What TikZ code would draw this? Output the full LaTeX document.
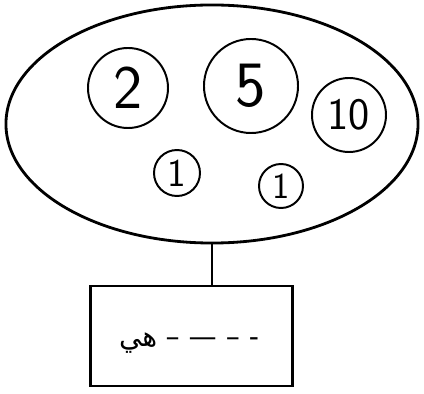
\documentclass[tikz,border=0pt]{standalone}
\usepackage{fontspec}
\newfontfamily\arabicfont[Script=Arabic]{DejaVu Sans}
\TeXXeTstate=1
\usetikzlibrary{shapes.geometric, positioning}

\begin{document}
\begin{tikzpicture}[x=0.025cm, y=-0.025cm,
  bag/.style={ellipse, draw, line width=2pt, inner sep=0pt,
              minimum width=10.3cm, minimum height=5.95cm},
  coin/.style={circle, draw, line width=1.4pt, inner sep=0pt, font=\sffamily},
  slip/.style={rectangle, draw, line width=2pt, inner sep=0pt,
               minimum width=5.05cm, minimum height=2.5cm},
]
  \useasboundingbox (0,0) rectangle (424,394);

  \node[bag] (purse) at (212,124) {};

  \node[coin, minimum size=2cm, font=\sffamily\fontsize{44}{44}\selectfont]   (two)  at (128,88)  {2};
  \node[coin, minimum size=2.35cm, font=\sffamily\fontsize{46}{46}\selectfont] (five) at (251,86)  {5};
  \node[coin, minimum size=1.85cm, font=\sffamily\fontsize{32}{32}\selectfont] (ten)  at (349,115) {10};
  \node[coin, minimum size=1.15cm, font=\sffamily\fontsize{28}{28}\selectfont] (oneA) at (177,173) {1};
  \node[coin, minimum size=1.1cm, font=\sffamily\fontsize{26}{26}\selectfont]  (oneB) at (281,186) {1};

  \node[slip] (card) at (191.5,336) {};
  \node[font=\fontsize{20}{20}\selectfont] (answer) at (189,343)
    {{\arabicfont\beginR هي\endR}\ {\arabicfont – — – -}};

  \draw[line width=2pt] (purse.south) -- (purse.south |- card.north);
\end{tikzpicture}
\end{document}
